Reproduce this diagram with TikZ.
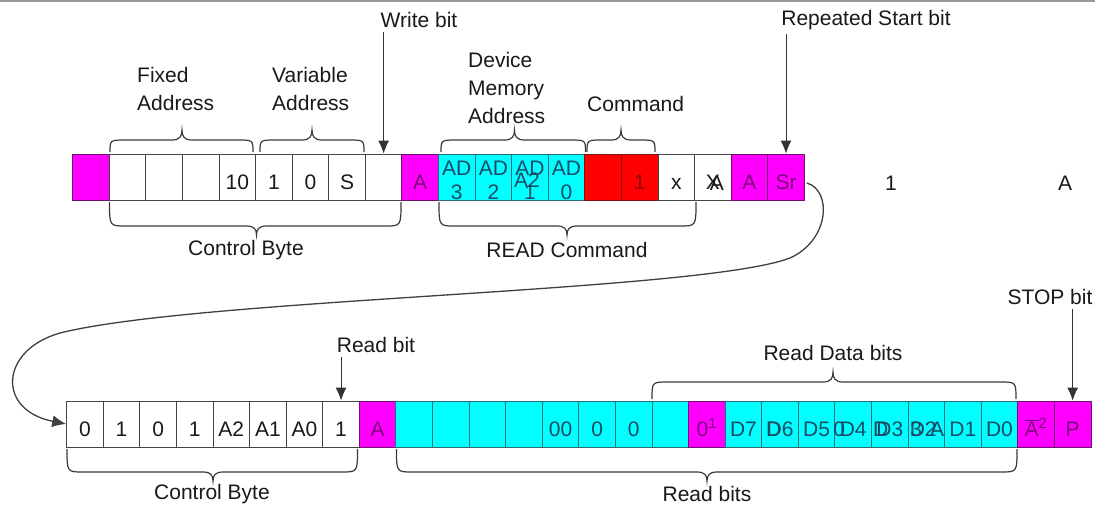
\documentclass[tikz,border=0pt]{standalone}
\usepackage{fontspec}
\setmainfont{Liberation Sans}
\usetikzlibrary{arrows.meta,calc}
\definecolor{mag}{HTML}{FF00FF}
\definecolor{magd}{HTML}{6E106E}
\definecolor{magtxt}{HTML}{7A007A}
\definecolor{cyn}{HTML}{00FFFF}
\definecolor{cynd}{HTML}{2C6E78}
\definecolor{cyntxt}{HTML}{1A4A66}
\definecolor{rd}{HTML}{FF0000}
\definecolor{rdd}{HTML}{801010}
\definecolor{rdtxt}{HTML}{8B0A0A}
\definecolor{edge}{HTML}{454545}
\definecolor{brcol}{HTML}{3A3A3A}
\newcommand\fs{\fontsize{21}{28}\selectfont}
% curly brace: x1, x2, xtip, yend, yflat, ytip
\newcommand\curly[6]{%
  \draw[brc] (#1,#4) .. controls (#1,#5) .. ({#1+16},#5) -- ({#3-10},#5)
    .. controls ({#3-2},#5) and (#3,{#5+0.4*(#6-#5)}) .. (#3,#6)
    .. controls (#3,{#5+0.4*(#6-#5)}) and ({#3+2},#5) .. ({#3+10},#5)
    -- ({#2-16},#5) .. controls (#2,#5) .. (#2,#4);}
\begin{document}
\begin{tikzpicture}[x=1pt,y=-1pt,
  cell/.style={draw, line width=0.9pt, minimum width=36.58pt, minimum height=46pt,
    inner sep=0pt, text height=24pt, text depth=0pt, font=\fs},
  W/.style={fill=white, draw=edge, text=black!90},
  M/.style={fill=mag, draw=magd, text=magtxt},
  C/.style={fill=cyn, draw=cynd, text=cyntxt},
  R/.style={fill=rd, draw=rdd, text=rdtxt},
  lbl/.style={font=\fs, inner sep=0pt, text=black!90},
  ov/.style={font=\fs, inner sep=0pt, anchor=base},
  brc/.style={draw=brcol, line width=1.2pt},
  arr/.style={draw=black!80, line width=1pt, -{Latex[length=13pt,width=11pt]}},
  curv/.style={draw=black!75, line width=1.3pt, -{Latex[length=14pt,width=12pt]}}]
\useasboundingbox (0,0) rectangle (1095,509);
\fill[white] (0,0) rectangle (1095,509);
\draw[black!40, line width=2.4pt] (0,1.2) -- (1095,1.2);

% ---- top row ----
\foreach \sty/\lab [count=\i] in {M/{},W/{},W/{},W/{},W/10,W/1,W/0,W/S,W/{},M/A,
    C/{},C/{},C/{},C/{},R/{},R/1,W/x,W/X,M/A,M/Sr}
  \node[cell,\sty] (t\i) at ({72.7+(\i-0.5)*36.58},177) {\lab};
\foreach \i/\dg in {11/3,12/2,13/1,14/0}{
  \node[ov, text=cyntxt] (ad\i) at ($(t\i.center)+(0,-2)$) {AD};
  \node[ov, text=cyntxt] (dg\i) at ($(t\i.center)+(0,22)$) {\dg};}
\node[ov, text=cyntxt] (a2ov) at (527,187) {A2};
\node[ov, text=black!90] (xaov) at ($(t18.center)+(4,13)$) {A};
\node[ov, text=black!90] (one) at (891,190) {1};
\node[ov, text=black!90] (aa) at (1065,190) {A};

% ---- bottom row ----
\foreach \sty/\lab [count=\i] in {W/0,W/1,W/0,W/1,W/A2,W/A1,W/A0,W/1,M/A,
    C/{},C/{},C/{},C/{},C/00,C/0,C/0,C/{},M/{0\textsuperscript{1}},
    C/D7,C/D6,C/D5,C/D4,C/D3,C/{},C/D1,C/D0,
    M/{$\overline{\mbox{A}}$\textsuperscript{2}},M/P}
  \node[cell,\sty] (b\i) at ({66.7+(\i-0.5)*36.58},424) {\lab};
\node[ov, text=cyntxt] (d6ov) at ($(b20.center)+(-6.4,12)$) {D};
\node[ov, text=cyntxt] (d4ov) at ($(b22.center)+(-14,12)$) {0};
\node[ov, text=cyntxt] (d3ov) at ($(b23.center)+(-9,12)$) {D};
\node[ov, text=cyntxt, anchor=base west] (d2) at ($(b24.west)+(2,12)$) {D2};
\node[ov, text=cyntxt] (d2ov) at ($(b24.west)+(8.5,12)$) {3};
\node[ov, text=cyntxt] (d2a) at ($(b24.east)+(-8,12)$) {A};

% ---- labels ----
\node[lbl] (wb) at (419,20) {Write bit};
\node[lbl] (rsb) at (866,20) {Repeated Start bit};
\node[lbl, align=left, anchor=north west] (fa) at (137,67) {Fixed\\Address};
\node[lbl, align=left, anchor=north west] (va) at (272,67) {Variable\\Address};
\node[lbl, align=left, anchor=north west] (dma) at (468,52) {Device\\Memory\\Address};
\node[lbl, anchor=west] (cmd) at (587,104) {Command};
\node[lbl] (cb1) at (246,250) {Control Byte};
\node[lbl] (rc) at (567,250) {READ Command};
\node[lbl] (stop) at (1050,297) {STOP bit};
\node[lbl] (rb) at (376,345) {Read bit};
\node[lbl] (rdb) at (833,353) {Read Data bits};
\node[lbl] (cb2) at (212,494) {Control Byte};
\node[lbl] (rbits) at (707,494) {Read bits};

% ---- braces ----
\curly{110}{253}{182}{152}{140}{130}
\curly{260}{364}{312}{152}{140}{130}
\curly{441}{585.5}{514.5}{152}{140}{130}
\curly{587}{655}{621}{152}{140}{130}
\curly{109.5}{401}{256.5}{202}{226}{235}
\curly{439}{696}{567}{202}{226}{235}
\curly{652}{1016}{833}{399}{382}{372}
\curly{67}{357.5}{213}{449}{472}{481}
\curly{396.5}{1017}{707}{449}{472}{481}

% ---- arrows ----
\draw[arr] ($(wb.south -| t9.north)+(0,4)$) -- (t9.north);
\draw[arr] ($(rsb.south -| t20.north)+(0,4)$) -- (t20.north);
\draw[arr] ($(rb.south -| b8.north)+(0,4)$) -- (b8.north);
\draw[arr] ($(stop.south -| b28.north)+(0,4)$) -- (b28.north);
\draw[curv] ($(t20.east)+(2,6)$) .. controls (832,190) and (830,240) .. (790,258)
  .. controls (700,292) and (200,298) .. (60,333)
  .. controls (0,350) and (-4,410) .. (b1.west);
\end{tikzpicture}
\end{document}
